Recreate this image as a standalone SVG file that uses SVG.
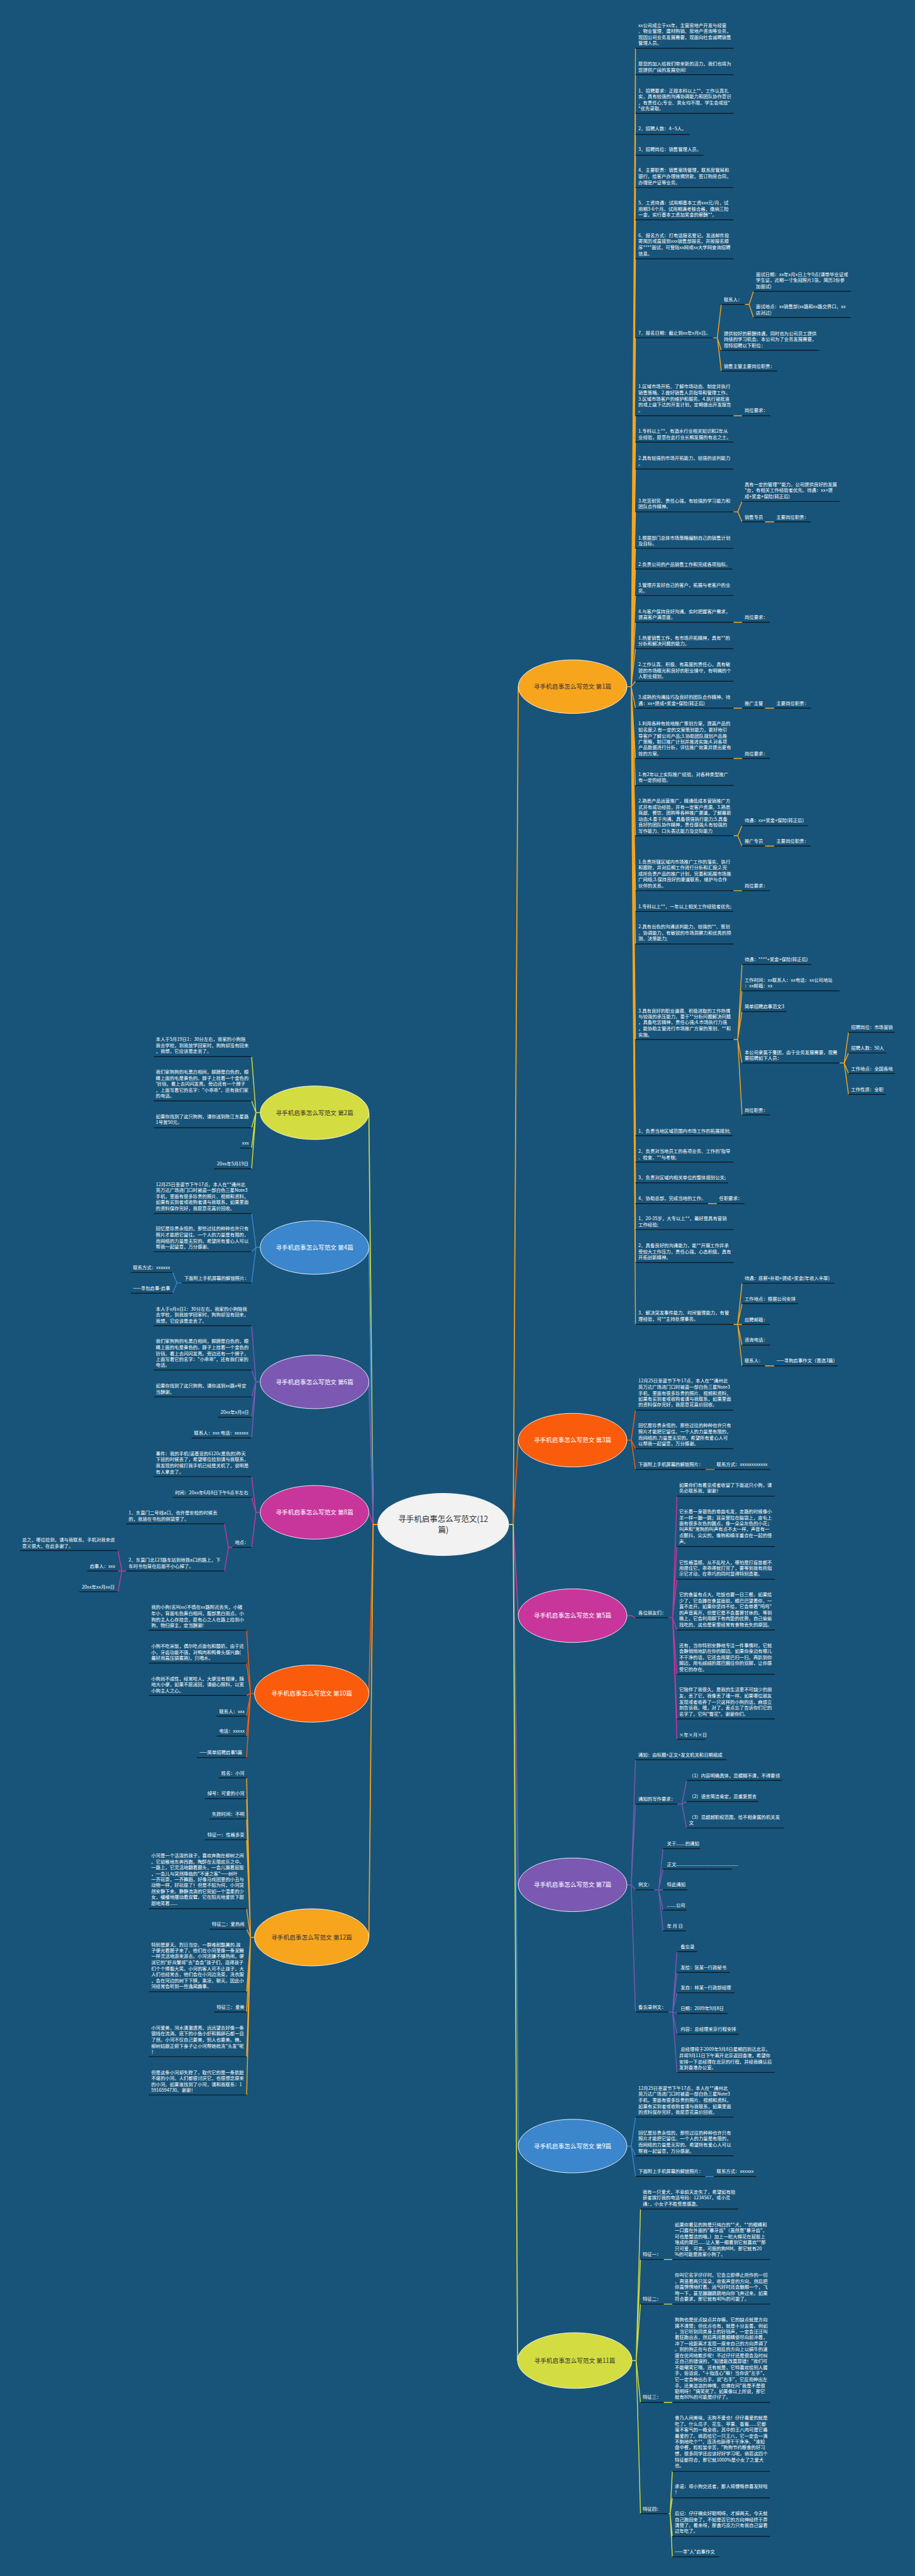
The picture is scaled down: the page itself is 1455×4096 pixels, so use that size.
<svg xmlns="http://www.w3.org/2000/svg" width="1455" height="4096" viewBox="0 0 1455 4096">
<style>
.t{font-family:"Noto Sans CJK SC","Noto Sans",sans-serif;font-size:13px;fill:#ffffff}
.u{fill:none;stroke:#0c1e2b;stroke-width:2.5}
.k{fill:none;stroke-width:2.5;stroke-linejoin:round}
.tk{fill:none;stroke-width:3}
.am{stroke:#f8a51e}.or{stroke:#fb5c0b}.mg{stroke:#c8369b}.pu{stroke:#7b59b2}.bl{stroke:#3b86cc}.yg{stroke:#d3dd41}
.e{stroke:#ffffff;stroke-width:1.5}
.tp{font-family:"Noto Sans CJK SC","Noto Sans",sans-serif;font-size:17px;text-anchor:middle}
.dk{fill:#333333}.wh{fill:#ffffff}
</style>
<rect width="1455" height="4096" fill="#185479"/>
<g transform="scale(0.56836)">
<g id="connectors">
<path class="tk yg" d="M1056 4265L1044 4265L1032 3113"/>
<path class="tk bl" d="M1056 4265L1044 4265L1032 3490"/>
<path class="tk pu" d="M1056 4265L1044 4265L1032 3866"/>
<path class="tk mg" d="M1056 4265L1044 4265L1032 4231"/>
<path class="tk or" d="M1056 4265L1044 4265L1032 4738"/>
<path class="tk am" d="M1056 4265L1044 4265L1032 5420"/>
<path class="tk am" d="M1424 4265L1436 4265L1450 1921"/>
<path class="tk or" d="M1424 4265L1436 4265L1450 4029"/>
<path class="tk mg" d="M1424 4265L1436 4265L1450 4520"/>
<path class="tk pu" d="M1424 4265L1436 4265L1450 5273"/>
<path class="tk bl" d="M1424 4265L1436 4265L1450 6004"/>
<path class="tk yg" d="M1424 4265L1436 4265L1448 6604"/>
<path class="k am" d="M1754 1921L1766 1921L1778 135M1766 1921L1778 209M1766 1921L1778 317M1766 1921L1778 376M1766 1921L1778 434M1766 1921L1778 525M1766 1921L1778 615M1766 1921L1778 724M1766 1921L1778 945M1766 1921L1778 1163M1766 1921L1778 1237M1766 1921L1778 1312M1766 1921L1778 1432M1766 1921L1778 1534M1766 1921L1778 1592M1766 1921L1778 1666M1766 1921L1778 1741M1766 1921L1778 1815M1766 1921L1778 1906M1766 1921L1778 1981M1766 1921L1778 2122M1766 1921L1778 2197M1766 1921L1778 2338M1766 1921L1778 2492M1766 1921L1778 2550M1766 1921L1778 2641M1766 1921L1778 2908M1766 1921L1778 3177M1766 1921L1778 3251M1766 1921L1778 3309M1766 1921L1778 3367M1766 1921L1778 3440M1766 1921L1778 3532M1766 1921L1778 3705"/>
<path class="k am" d="M1995 945L2007 945L2018 852M2007 945L2018 980M2007 945L2018 1038M2084 852L2096 852L2108 815M2096 852L2108 888M2052 1163L2076 1163M2052 1432L2064 1432L2076 1403M2064 1432L2076 1460M2140 1460L2166 1460M2052 1741L2076 1741M2052 1981L2076 1981M2140 1981L2166 1981M2052 2122L2076 2122M2052 2338L2064 2338L2076 2310M2064 2338L2076 2367M2140 2367L2166 2367M2052 2492L2076 2492M2052 2908L2064 2908L2076 2698M2064 2908L2076 2772M2064 2908L2076 2830M2064 2908L2076 2974M2064 2908L2076 3119M2349 2974L2362 2974L2374 2888M2362 2974L2374 2946M2362 2974L2374 3003M2362 2974L2374 3062M1981 3367L2006 3367M2052 3705L2064 3705L2076 3590M2064 3705L2076 3647M2064 3705L2076 3705M2064 3705L2076 3763M2064 3705L2076 3821M2140 3821L2166 3821"/>
<path class="k or" d="M1754 4029L1766 4029L1778 3945M1766 4029L1778 4053M1766 4029L1778 4111M1974 4111L2000 4111"/>
<path class="k mg" d="M1754 4520L1766 4520L1778 4526M1870 4526L1882 4526L1894 4186M1882 4526L1894 4327M1882 4526L1894 4418M1882 4526L1894 4560M1882 4526L1894 4684M1882 4526L1894 4809M1882 4526L1894 4866"/>
<path class="k pu" d="M1754 5273L1766 5273L1778 4923M1766 5273L1778 5047M1766 5273L1778 5287M1766 5273L1778 5629M1895 5047L1908 5047L1921 4981M1908 5047L1921 5040M1908 5047L1921 5114M1830 5287L1843 5287L1855 5172M1843 5287L1855 5229M1843 5287L1855 5287M1843 5287L1855 5344M1843 5287L1855 5402M1870 5629L1882 5629L1894 5460M1882 5629L1894 5518M1882 5629L1894 5575M1882 5629L1894 5633M1882 5629L1894 5691M1882 5629L1894 5798"/>
<path class="k bl" d="M1754 6004L1766 6004L1778 5923M1766 6004L1778 6031M1766 6004L1778 6089M1973 6089L1997 6089"/>
<path class="k yg" d="M1768 6604L1780 6604L1792 6180M1780 6604L1792 6321M1780 6604L1792 6446M1780 6604L1792 6721M1780 6604L1792 7032M1857 6321L1881 6321M1857 6446L1881 6446M1857 6721L1881 6721M1870 7032L1875 7032L1881 6914M1875 7032L1881 6988M1875 7032L1881 7096M1875 7032L1881 7153"/>
<path class="k yg" d="M728 3113L716 3113L704 2956M716 3113L704 3080M716 3113L704 3155M716 3113L704 3212M716 3113L704 3270"/>
<path class="k bl" d="M728 3490L716 3490L704 3395M716 3490L704 3502M716 3490L704 3589M508 3589L495 3589L483 3560M495 3589L483 3618"/>
<path class="k pu" d="M728 3866L716 3866L704 3709M716 3866L704 3833M716 3866L704 3908M716 3866L704 3965M716 3866L704 4023"/>
<path class="k mg" d="M728 4231L716 4231L704 4131M716 4231L704 4189M716 4231L704 4329M650 4329L639 4329L628 4263M639 4329L628 4395M353 4395L341 4395L330 4338M341 4395L330 4395M341 4395L330 4453"/>
<path class="k or" d="M712 4738L701 4738L690 4561M701 4738L690 4653M701 4738L690 4743M701 4738L690 4801M701 4738L690 4857M701 4738L690 4917"/>
<path class="k am" d="M712 5420L701 5420L690 4974M701 5420L690 5032M701 5420L690 5089M701 5420L690 5147M701 5420L690 5340M701 5420L690 5397M701 5420L690 5572M701 5420L690 5629M701 5420L690 5754M701 5420L690 5861"/>
</g>
<g id="center"><ellipse cx="1240" cy="4265" rx="184" ry="88" fill="#f2f2f2"/><text class="tp dk" style="font-size:22px"><tspan x="1240" y="4258">寻手机启事怎么写范文(12</tspan><tspan x="1240" y="4287">篇)</tspan></text></g>
<g id="topic1"><ellipse class="e" cx="1602" cy="1921" rx="152" ry="75" fill="#f8a51e"/><text class="tp dk" x="1602" y="1927">寻手机启事怎么写范文 第1篇</text></g>
<g id="topic3"><ellipse class="e" cx="1602" cy="4029" rx="152" ry="75" fill="#fb5c0b"/><text class="tp wh" x="1602" y="4035">寻手机启事怎么写范文 第3篇</text></g>
<g id="topic5"><ellipse class="e" cx="1602" cy="4520" rx="152" ry="75" fill="#c8369b"/><text class="tp wh" x="1602" y="4526">寻手机启事怎么写范文 第5篇</text></g>
<g id="topic7"><ellipse class="e" cx="1602" cy="5273" rx="152" ry="75" fill="#7b59b2"/><text class="tp wh" x="1602" y="5279">寻手机启事怎么写范文 第7篇</text></g>
<g id="topic9"><ellipse class="e" cx="1602" cy="6004" rx="152" ry="75" fill="#3b86cc"/><text class="tp wh" x="1602" y="6010">寻手机启事怎么写范文 第9篇</text></g>
<g id="topic11"><ellipse class="e" cx="1608" cy="6604" rx="160" ry="78" fill="#d3dd41"/><text class="tp dk" x="1608" y="6610">寻手机启事怎么写范文 第11篇</text></g>
<g id="topic2"><ellipse class="e" cx="880" cy="3113" rx="152" ry="75" fill="#d3dd41"/><text class="tp dk" x="880" y="3119">寻手机启事怎么写范文 第2篇</text></g>
<g id="topic4"><ellipse class="e" cx="880" cy="3490" rx="152" ry="75" fill="#3b86cc"/><text class="tp wh" x="880" y="3496">寻手机启事怎么写范文 第4篇</text></g>
<g id="topic6"><ellipse class="e" cx="880" cy="3866" rx="152" ry="75" fill="#7b59b2"/><text class="tp wh" x="880" y="3872">寻手机启事怎么写范文 第6篇</text></g>
<g id="topic8"><ellipse class="e" cx="880" cy="4231" rx="152" ry="75" fill="#c8369b"/><text class="tp wh" x="880" y="4237">寻手机启事怎么写范文 第8篇</text></g>
<g id="topic10"><ellipse class="e" cx="872" cy="4738" rx="160" ry="80" fill="#fb5c0b"/><text class="tp wh" x="872" y="4744">寻手机启事怎么写范文 第10篇</text></g>
<g id="topic12"><ellipse class="e" cx="872" cy="5420" rx="160" ry="80" fill="#f8a51e"/><text class="tp dk" x="872" y="5426">寻手机启事怎么写范文 第12篇</text></g>

<g id="r1a"><path class="u" d="M1778 135H2052"/><text class="t"><tspan x="1786" y="75">xx公司成立于xx年，主营房地产开发与经营</tspan><tspan x="1786" y="92">、物业管理、建材购销、房地产咨询等业务，</tspan><tspan x="1786" y="109">现因公司业务发展需要，现面向社会诚聘销售</tspan><tspan x="1786" y="125">管理人员。</tspan></text></g>
<g id="r1b"><path class="u" d="M1778 209H2052"/><text class="t"><tspan x="1786" y="183">愿您的加入给我们带来新的活力，我们也将为</tspan><tspan x="1786" y="200">您提供广阔的发展空间!</tspan></text></g>
<g id="r1c"><path class="u" d="M1778 317H2052"/><text class="t"><tspan x="1786" y="258">1、招聘要求：正规本科以上**，工作认真扎</tspan><tspan x="1786" y="275">实，具有较强的沟通协调能力和团队协作意识</tspan><tspan x="1786" y="292">，有责任心;专业、男女均不限，学生会或班*</tspan><tspan x="1786" y="308">*优先录取。</tspan></text></g>
<g id="r1d"><path class="u" d="M1778 376H1929"/><text class="t" x="1786" y="365">2、招聘人数：4--5人。</text></g>
<g id="r1e"><path class="u" d="M1778 434H1968"/><text class="t" x="1786" y="423">3、招聘岗位：销售管理人员。</text></g>
<g id="r1f"><path class="u" d="M1778 525H2052"/><text class="t"><tspan x="1786" y="481">4、主要职责：销售案场管理，联系房管局和</tspan><tspan x="1786" y="498">银行，给客户办理按揭贷款，签订购房合同，</tspan><tspan x="1786" y="515">办理房产证等业务。</tspan></text></g>
<g id="r1g"><path class="u" d="M1778 615H2052"/><text class="t"><tspan x="1786" y="572">5、工资待遇：试用期基本工资xxx元/月，试</tspan><tspan x="1786" y="589">用期3-6个月。试用期满考核合格，缴纳三险</tspan><tspan x="1786" y="606">一金，实行基本工资加奖金的薪酬**。</tspan></text></g>
<g id="r1h"><path class="u" d="M1778 724H2052"/><text class="t"><tspan x="1786" y="663">6、报名方式：打电话报名登记，发送邮件投</tspan><tspan x="1786" y="680">寄简历或直接到xxx销售部报名，并按报名顺</tspan><tspan x="1786" y="697">序****面试，可登陆xx网或xx大学网查询招聘</tspan><tspan x="1786" y="714">信息。</tspan></text></g>
<g id="r1i"><path class="u" d="M1778 945H1995"/><text class="t" x="1786" y="936">7、报名日期：截止到xx年x月x日。</text></g>
<g id="r1i1"><path class="u" d="M2018 852H2084"/><text class="t" x="2025" y="842">联系人：</text></g>
<g id="r1i1a"><path class="u" d="M2108 815H2381"/><text class="t"><tspan x="2115" y="772">面试日期：xx年x月x日上午9点(请带毕业证或</tspan><tspan x="2115" y="788">学生证，近期一寸免冠照片1张，简历1份参</tspan><tspan x="2115" y="805">加面试)</tspan></text></g>
<g id="r1i1b"><path class="u" d="M2108 888H2381"/><text class="t"><tspan x="2115" y="863">面试地点：xx销售部(xx路和xx路交界口，xx</tspan><tspan x="2115" y="879">店对过)</tspan></text></g>
<g id="r1i2"><path class="u" d="M2018 980H2292"/><text class="t"><tspan x="2025" y="937">提供较好的薪酬待遇，同时也为公司员工提供</tspan><tspan x="2025" y="954">持续的学习机会。本公司为了业务发展需要，</tspan><tspan x="2025" y="971">现特招聘以下职位：</tspan></text></g>
<g id="r1i3"><path class="u" d="M2018 1038H2174"/><text class="t" x="2025" y="1029">销售主管主要岗位职责：</text></g>
<g id="r1j"><path class="u" d="M1778 1163H2052"/><text class="t"><tspan x="1786" y="1086">1.区域市场开拓、了解市场动态、制定并执行</tspan><tspan x="1786" y="1103">销售策略。2.做好销售人员指导和管理工作。</tspan><tspan x="1786" y="1120">3.区域市场客户的维护和服务。4.执行被批准</tspan><tspan x="1786" y="1136">的或上级下达的开发计划，定期做出开发报告</tspan><tspan x="1786" y="1153">。</tspan></text></g>
<g id="r1j1"><path class="u" d="M2076 1163H2154"/><text class="t" x="2083" y="1153">岗位要求：</text></g>
<g id="r1k"><path class="u" d="M1778 1237H2052"/><text class="t"><tspan x="1786" y="1210">1.专科以上**，有酒水行业相关知识和2年从</tspan><tspan x="1786" y="1228">业经验，愿意在此行业长期发展的有志之士。</tspan></text></g>
<g id="r1l"><path class="u" d="M1778 1312H2052"/><text class="t"><tspan x="1786" y="1286">2.具有较强的市场开拓能力，较强的谈判能力</tspan><tspan x="1786" y="1302">。</tspan></text></g>
<g id="r1m"><path class="u" d="M1778 1432H2052"/><text class="t"><tspan x="1786" y="1405">3.吃苦耐劳、责任心强，有较强的学习能力和</tspan><tspan x="1786" y="1422">团队合作精神。</tspan></text></g>
<g id="r1m1"><path class="u" d="M2076 1403H2349"/><text class="t"><tspan x="2083" y="1360">具有一定的管理**能力。公司提供良好的发展</tspan><tspan x="2083" y="1376">*台，有相关工作经验者优先。待遇：xx+提</tspan><tspan x="2083" y="1393">成+奖金+保险(转正后)</tspan></text></g>
<g id="r1m2"><path class="u" d="M2076 1460H2140"/><text class="t" x="2083" y="1451">销售专员</text></g>
<g id="r1m2a"><path class="u" d="M2166 1460H2269"/><text class="t" x="2172" y="1451">主要岗位职责：</text></g>
<g id="r1n"><path class="u" d="M1778 1534H2052"/><text class="t"><tspan x="1786" y="1509">1.根据部门总体市场策略编制自己的销售计划</tspan><tspan x="1786" y="1525">及目标。</tspan></text></g>
<g id="r1o"><path class="u" d="M1778 1592H2049"/><text class="t" x="1786" y="1583">2.负责公司的产品销售工作和完成各项指标。</text></g>
<g id="r1p"><path class="u" d="M1778 1666H2052"/><text class="t"><tspan x="1786" y="1641">3.管理开发好自己的客户，拓展与老客户的业</tspan><tspan x="1786" y="1657">务。</tspan></text></g>
<g id="r1q"><path class="u" d="M1778 1741H2052"/><text class="t"><tspan x="1786" y="1715">4.与客户保持良好沟通，实时把握客户需求，</tspan><tspan x="1786" y="1731">提高客户满意度。</tspan></text></g>
<g id="r1q1"><path class="u" d="M2076 1741H2154"/><text class="t" x="2083" y="1731">岗位要求：</text></g>
<g id="r1r"><path class="u" d="M1778 1815H2052"/><text class="t"><tspan x="1786" y="1789">1.热爱销售工作，有市场开拓精神，具有**的</tspan><tspan x="1786" y="1806">分析和解决问题的能力。</tspan></text></g>
<g id="r1s"><path class="u" d="M1778 1906H2052"/><text class="t"><tspan x="1786" y="1864">2.工作认真、积极、有高度的责任心，具有敏</tspan><tspan x="1786" y="1881">锐的市场眼光和良好的职业操守，有明确的个</tspan><tspan x="1786" y="1897">人职业规划。</tspan></text></g>
<g id="r1t"><path class="u" d="M1778 1981H2052"/><text class="t"><tspan x="1786" y="1955">3.成熟的沟通技巧及良好的团队合作精神。待</tspan><tspan x="1786" y="1972">遇：xx+提成+奖金+保险(转正后)</tspan></text></g>
<g id="r1t1"><path class="u" d="M2076 1981H2140"/><text class="t" x="2083" y="1972">推广主管</text></g>
<g id="r1t1a"><path class="u" d="M2166 1981H2269"/><text class="t" x="2172" y="1972">主要岗位职责：</text></g>
<g id="r1u"><path class="u" d="M1778 2122H2052"/><text class="t"><tspan x="1786" y="2029">1.利用各种有效地推广策划方案，提高产品的</tspan><tspan x="1786" y="2046">知名度;2.有一定的文案策划能力，更好地引</tspan><tspan x="1786" y="2063">导客户了解公司产品;3.协助团队规划产品推</tspan><tspan x="1786" y="2080">广策略，制订推广计划并推进实施;4.对各项</tspan><tspan x="1786" y="2096">产品数据进行分析，评估推广效果并提出更有</tspan><tspan x="1786" y="2113">效的方案。</tspan></text></g>
<g id="r1u1"><path class="u" d="M2076 2122H2154"/><text class="t" x="2083" y="2113">岗位要求：</text></g>
<g id="r1v"><path class="u" d="M1778 2197H2052"/><text class="t"><tspan x="1786" y="2171">1.有2年以上实际推广经验，对各种类型推广</tspan><tspan x="1786" y="2187">有一定的经验。</tspan></text></g>
<g id="r1w"><path class="u" d="M1778 2338H2052"/><text class="t"><tspan x="1786" y="2245">2.熟悉产品运营推广，精通低成本营销推广方</tspan><tspan x="1786" y="2262">式并有成功经验，并有一定客户资源。3.熟悉</tspan><tspan x="1786" y="2279">商超、餐饮、团购等各种推广渠道，了解最新</tspan><tspan x="1786" y="2296">动态;4.善于沟通，具备很强执行能力;5.具备</tspan><tspan x="1786" y="2312">良好的团队协作精神，责任感强;6.有较强的</tspan><tspan x="1786" y="2329">写作能力、口头表达能力及交际能力</tspan></text></g>
<g id="r1w1"><path class="u" d="M2076 2310H2260"/><text class="t" x="2083" y="2300">待遇：xx+奖金+保险(转正后)</text></g>
<g id="r1w2"><path class="u" d="M2076 2367H2140"/><text class="t" x="2083" y="2358">推广专员</text></g>
<g id="r1w2a"><path class="u" d="M2166 2367H2269"/><text class="t" x="2172" y="2358">主要岗位职责：</text></g>
<g id="r1x"><path class="u" d="M1778 2492H2052"/><text class="t"><tspan x="1786" y="2416">1.负责所辖区域内市场推广工作的落实、执行</tspan><tspan x="1786" y="2432">和跟踪，并对后期工作进行分析和汇报;2.完</tspan><tspan x="1786" y="2449">成所负责产品的推广计划，完善和拓展市场推</tspan><tspan x="1786" y="2465">广网络;3.保持良好的渠道联系，维护与合作</tspan><tspan x="1786" y="2482">伙伴的关系。</tspan></text></g>
<g id="r1x1"><path class="u" d="M2076 2492H2154"/><text class="t" x="2083" y="2482">岗位要求：</text></g>
<g id="r1y"><path class="u" d="M1778 2550H2052"/><text class="t" x="1786" y="2540">1.专科以上**，一年以上相关工作经验者优先;</text></g>
<g id="r1z"><path class="u" d="M1778 2641H2052"/><text class="t"><tspan x="1786" y="2597">2.具有出色的沟通谈判能力，较强的**、策划</tspan><tspan x="1786" y="2614">、协调能力，有敏锐的市场洞察力和优秀的预</tspan><tspan x="1786" y="2631">测、决策能力;</tspan></text></g>
<g id="r1aa"><path class="u" d="M1778 2908H2052"/><text class="t"><tspan x="1786" y="2832">3.具有良好的职业道德、积极进取的工作热情</tspan><tspan x="1786" y="2849">与较强的承压能力，善于**分析问题解决问题</tspan><tspan x="1786" y="2865">，具备吃苦精神，责任心强;4.市场执行力强</tspan><tspan x="1786" y="2882">，能协助主管进行市场推广方案的策划、**和</tspan><tspan x="1786" y="2899">实施。</tspan></text></g>
<g id="r1aa1"><path class="u" d="M2076 2698H2270"/><text class="t" x="2083" y="2689">待遇：****+奖金+保险(转正后)</text></g>
<g id="r1aa2"><path class="u" d="M2076 2772H2349"/><text class="t"><tspan x="2083" y="2747">工作时间：xx联系人：xx电话：xx公司地址</tspan><tspan x="2083" y="2763">：xx邮箱：xx</tspan></text></g>
<g id="r1aa3"><path class="u" d="M2076 2830H2200"/><text class="t" x="2083" y="2821">简单招聘启事范文3</text></g>
<g id="r1aa4"><path class="u" d="M2076 2974H2349"/><text class="t"><tspan x="2083" y="2949">本公司隶属于集团，由于业务发展需要，现需</tspan><tspan x="2083" y="2965">要招聘如下人员：</tspan></text></g>
<g id="r1aa4a"><path class="u" d="M2374 2888H2504"/><text class="t" x="2381" y="2879">招聘岗位：市场营销</text></g>
<g id="r1aa4b"><path class="u" d="M2374 2946H2479"/><text class="t" x="2381" y="2937">招聘人数：50人</text></g>
<g id="r1aa4c"><path class="u" d="M2374 3003H2504"/><text class="t" x="2381" y="2994">工作地点：全国各地</text></g>
<g id="r1aa4d"><path class="u" d="M2374 3062H2478"/><text class="t" x="2381" y="3052">工作性质：全职</text></g>
<g id="r1aa5"><path class="u" d="M2076 3119H2154"/><text class="t" x="2083" y="3110">岗位职责：</text></g>
<g id="r1bb"><path class="u" d="M1778 3177H2050"/><text class="t" x="1786" y="3168">1、负责当地区域范围内市场工作的拓展规划;</text></g>
<g id="r1cc"><path class="u" d="M1778 3251H2052"/><text class="t"><tspan x="1786" y="3225">2、负责对当地员工的各项业务、工作的'指导</tspan><tspan x="1786" y="3242">、检查、**与考核;</tspan></text></g>
<g id="r1dd"><path class="u" d="M1778 3309H2037"/><text class="t" x="1786" y="3299">3、负责对区域内相关单位的整体规划公关;</text></g>
<g id="r1ee"><path class="u" d="M1778 3367H1981"/><text class="t" x="1786" y="3357">4、协助总部，完成当地的工作。</text></g>
<g id="r1ee1"><path class="u" d="M2006 3367H2083"/><text class="t" x="2012" y="3357">任职要求：</text></g>
<g id="r1ff"><path class="u" d="M1778 3440H2052"/><text class="t"><tspan x="1786" y="3414">1、20-35岁，大专以上**，最好是具有营销</tspan><tspan x="1786" y="3431">工作经验;</tspan></text></g>
<g id="r1gg"><path class="u" d="M1778 3532H2052"/><text class="t"><tspan x="1786" y="3489">2、具备良好的沟通能力，能**开展工作并承</tspan><tspan x="1786" y="3506">受较大工作压力，责任心强，心态积极，具有</tspan><tspan x="1786" y="3522">开拓创新精神。</tspan></text></g>
<g id="r1hh"><path class="u" d="M1778 3705H2052"/><text class="t"><tspan x="1786" y="3678">3、解决突发事件能力、时间管理能力，有管</tspan><tspan x="1786" y="3695">理经验，可**主持处理事务。</tspan></text></g>
<g id="r1hh1"><path class="u" d="M2076 3590H2335"/><text class="t" x="2083" y="3580">待遇：底薪+补助+提成+奖金(年收入丰厚)</text></g>
<g id="r1hh2"><path class="u" d="M2076 3647H2232"/><text class="t" x="2083" y="3638">工作地点：根据公司安排</text></g>
<g id="r1hh3"><path class="u" d="M2076 3705H2154"/><text class="t" x="2083" y="3696">应聘邮箱：</text></g>
<g id="r1hh4"><path class="u" d="M2076 3763H2154"/><text class="t" x="2083" y="3753">咨询电话：</text></g>
<g id="r1hh5"><path class="u" d="M2076 3821H2140"/><text class="t" x="2083" y="3811">联系人：</text></g>
<g id="r1hh5a"><path class="u" d="M2166 3821H2343"/><text class="t" x="2172" y="3811">——寻狗启事作文（菁选3篇)</text></g>

<g id="r3a"><path class="u" d="M1778 3945H2052"/><text class="t"><tspan x="1786" y="3868">12月25日圣诞节下午17点，本人在**通州北</tspan><tspan x="1786" y="3885">苑万达广场进门口时被盗一部白色三星Note3</tspan><tspan x="1786" y="3902">手机，里面有很多珍贵的照片、视频和资料，</tspan><tspan x="1786" y="3919">如果有买到者或收购者请与我联系，如果里面</tspan><tspan x="1786" y="3935">的资料保存完好，我愿意花高价回收。</tspan></text></g>
<g id="r3b"><path class="u" d="M1778 4053H2052"/><text class="t"><tspan x="1786" y="3992">回忆是珍贵永恒的，那些过往的种种也许只有</tspan><tspan x="1786" y="4010">照片才能把它留住。一个人的力量是有限的，</tspan><tspan x="1786" y="4027">而网络的.力量是无穷的。希望所有爱心人可</tspan><tspan x="1786" y="4044">以帮我一起留意，万分感谢。</tspan></text></g>
<g id="r3c"><path class="u" d="M1778 4111H1974"/><text class="t" x="1786" y="4102">下面附上手机屏幕的解锁照片：</text></g>
<g id="r3c1"><path class="u" d="M2000 4111H2155"/><text class="t" x="2005" y="4102">联系方式：xxxxxxxxxxxx</text></g>

<g id="r5a"><path class="u" d="M1778 4526H1870"/><text class="t" x="1786" y="4516">各位朋友们：</text></g>
<g id="r5a1"><path class="u" d="M1894 4186H2168"/><text class="t"><tspan x="1900" y="4159">如果你们有看见或者收留了下面这只小狗，请</tspan><tspan x="1900" y="4176">务必联系我，谢谢！</tspan></text></g>
<g id="r5a2"><path class="u" d="M1894 4327H2168"/><text class="t"><tspan x="1900" y="4233">它长着一身银色的卷曲毛发，走路的时候像小</tspan><tspan x="1900" y="4250">羊一样一蹦一跳；耳朵耷拉在脑袋上，皮毛上</tspan><tspan x="1900" y="4267">面有很多灰色的圆点，像一朵朵灰色的小花；</tspan><tspan x="1900" y="4283">叫声和*常狗的叫声有点不太一样，声音有一</tspan><tspan x="1900" y="4300">点颤抖，尖尖的，像狗和绵羊重合在一起的怪</tspan><tspan x="1900" y="4317">声。</tspan></text></g>
<g id="r5a3"><path class="u" d="M1894 4418H2168"/><text class="t"><tspan x="1900" y="4375">它性格温顺，从不乱咬人，哪怕是打疫苗都不</tspan><tspan x="1900" y="4391">用摁住它，乖乖得就打完了，要等到我有所指</tspan><tspan x="1900" y="4408">示它才动，在乖巧的同时显得特别勇敢。</tspan></text></g>
<g id="r5a4"><path class="u" d="M1894 4560H2168"/><text class="t"><tspan x="1900" y="4466">它的食量有点大，吃饭也要一日三餐。如果给</tspan><tspan x="1900" y="4483">少了，它会蹲在食盆面前，眼巴巴望着你，一</tspan><tspan x="1900" y="4499">直不走开。如果你坚持不给，它会带着"呜呜"</tspan><tspan x="1900" y="4516">的声音离开，但是它是不会善罢甘休的。等到</tspan><tspan x="1900" y="4533">晚上，它会利用脚下有肉垫的优势，自己偷偷</tspan><tspan x="1900" y="4550">找吃的，这也是家里经常有食物丢失的原因。</tspan></text></g>
<g id="r5a5"><path class="u" d="M1894 4684H2168"/><text class="t"><tspan x="1900" y="4608">还有，当你特别安静地专注一件事情时，它就</tspan><tspan x="1900" y="4624">会静悄悄地趴在你的脚边。如果你身边有哪儿</tspan><tspan x="1900" y="4641">不干净的话，它还会用尾巴扫一扫，再趴到你</tspan><tspan x="1900" y="4657">脚边，用毛绒绒的尾巴圈住你的双脚，让你感</tspan><tspan x="1900" y="4675">受它的存在。</tspan></text></g>
<g id="r5a6"><path class="u" d="M1894 4809H2168"/><text class="t"><tspan x="1900" y="4732">它陪伴了我很久，是我的生活里不可缺少的朋</tspan><tspan x="1900" y="4749">友，丢了它，我像丢了魂一样。如果哪位朋友</tspan><tspan x="1900" y="4766">发现或者收养了一只这样的小狗的话，麻烦立</tspan><tspan x="1900" y="4782">刻告诉我。噢，对了，差点忘了告诉你们它的</tspan><tspan x="1900" y="4799">名字了，它叫"雪花"。谢谢你们。</tspan></text></g>
<g id="r5a7"><path class="u" d="M1894 4866H1974"/><text class="t" x="1900" y="4857">×年×月×日</text></g>

<g id="r7a"><path class="u" d="M1778 4923H2032"/><text class="t" x="1786" y="4914">通知：由标题+正文+发文机关和日期组成</text></g>
<g id="r7b"><path class="u" d="M1778 5047H1895"/><text class="t" x="1786" y="5038">通知的写作要求：</text></g>
<g id="r7b1"><path class="u" d="M1921 4981H2188"/><text class="t" x="1928" y="4972">（1）内容明确具体，忌模糊不清，不得要领</text></g>
<g id="r7b2"><path class="u" d="M1921 5040H2122"/><text class="t" x="1928" y="5031">（2）语言简洁肯定，忌重复赘言</text></g>
<g id="r7b3"><path class="u" d="M1921 5114H2194"/><text class="t"><tspan x="1928" y="5088">（3）忌超越职权范围，给不相隶属的机关发</tspan><tspan x="1928" y="5104">文</tspan></text></g>
<g id="r7c"><path class="u" d="M1778 5287H1830"/><text class="t" x="1786" y="5277">例文：</text></g>
<g id="r7c1"><path class="u" d="M1855 5172H1959"/><text class="t" x="1866" y="5162">关于.......的通知</text></g>
<g id="r7c2"><path class="u" d="M1855 5229H2048"/><text class="t" x="1866" y="5220">正文................................................</text></g>
<g id="r7c3"><path class="u" d="M1855 5287H1923"/><text class="t" x="1866" y="5277">特此通知</text></g>
<g id="r7c4"><path class="u" d="M1855 5344H1920"/><text class="t" x="1866" y="5335">.......公司</text></g>
<g id="r7c5"><path class="u" d="M1855 5402H1919"/><text class="t" x="1866" y="5393">年 月 日</text></g>
<g id="r7d"><path class="u" d="M1778 5629H1870"/><text class="t" x="1786" y="5620">备忘录例文：</text></g>
<g id="r7d1"><path class="u" d="M1894 5460H1950"/><text class="t" x="1904" y="5450">备忘录</text></g>
<g id="r7d2"><path class="u" d="M1894 5518H2042"/><text class="t" x="1904" y="5508">发给：张某—行政秘书</text></g>
<g id="r7d3"><path class="u" d="M1894 5575H2055"/><text class="t" x="1904" y="5566">发自：林某—行政部经理</text></g>
<g id="r7d4"><path class="u" d="M1894 5633H2035"/><text class="t" x="1904" y="5624">日期：2009年9月8日</text></g>
<g id="r7d5"><path class="u" d="M1894 5691H2067"/><text class="t" x="1904" y="5681">内容：总经理来京行程安排</text></g>
<g id="r7d6"><path class="u" d="M1894 5798H2168"/><text class="t"><tspan x="1904" y="5738">总经理将于2009年9月8日星期四到达北京，</tspan><tspan x="1900" y="5756">并将9月11日下午离开北京返回香港，希望你</tspan><tspan x="1900" y="5772">安排一下总经理在北京的行程，并经我确认后</tspan><tspan x="1900" y="5789">发到香港办公室。</tspan></text></g>

<g id="r9a"><path class="u" d="M1778 5923H2052"/><text class="t"><tspan x="1786" y="5847">12月25日圣诞节下午17点，本人在**通州北</tspan><tspan x="1786" y="5863">苑万达广场进门口时被盗一部白色三星Note3</tspan><tspan x="1786" y="5880">手机，里面有很多珍贵的照片、视频和资料，</tspan><tspan x="1786" y="5897">如果有买到者或收购者请与我联系，如果里面</tspan><tspan x="1786" y="5913">的资料保存完好，我愿意花高价回收。</tspan></text></g>
<g id="r9b"><path class="u" d="M1778 6031H2052"/><text class="t"><tspan x="1786" y="5972">回忆是珍贵永恒的，那些过往的种种也许只有</tspan><tspan x="1786" y="5988">照片才能把它留住。一个人的力量是有限的，</tspan><tspan x="1786" y="6005">而网络的力量是无穷的。希望所有爱心人可以</tspan><tspan x="1786" y="6022">帮我一起留意，万分感谢。</tspan></text></g>
<g id="r9c"><path class="u" d="M1778 6089H1973"/><text class="t" x="1786" y="6079">下面附上手机屏幕的解锁照片：</text></g>
<g id="r9c1"><path class="u" d="M1997 6089H2116"/><text class="t" x="2005" y="6079">联系方式：xxxxxx</text></g>

<g id="r11a"><path class="u" d="M1792 6180H2065"/><text class="t"><tspan x="1798" y="6137">我有一只爱犬，不幸前天走失了，希望如有拾</tspan><tspan x="1798" y="6153">获者拨打我的电话号码：1234567，或小灵</tspan><tspan x="1798" y="6170">通：，小女子不胜受恩感激。</tspan></text></g>
<g id="r11b"><path class="u" d="M1792 6321H1857"/><text class="t" x="1798" y="6312">特征一：</text></g>
<g id="r11b1"><path class="u" d="M1881 6321H2154"/><text class="t"><tspan x="1888" y="6228">如果你看见的狗是只纯白的**犬，**的眼睛和</tspan><tspan x="1888" y="6245">一口露在外面的"暴牙齿"（虽然是"暴牙齿"，</tspan><tspan x="1888" y="6261">可也是整洁的哦。）加上一砣大棉花在屁股上</tspan><tspan x="1888" y="6278">堆成的尾巴......让人第一眼看到它就喜欢**那</tspan><tspan x="1888" y="6295">只可爱，可亲，可抱的狗MM。那它就有20</tspan><tspan x="1888" y="6312">%的可能是我家小狗了。</tspan></text></g>
<g id="r11c"><path class="u" d="M1792 6446H1857"/><text class="t" x="1798" y="6436">特征二：</text></g>
<g id="r11c1"><path class="u" d="M1881 6446H2154"/><text class="t"><tspan x="1888" y="6369">你叫它名字仔仔时。它会立即停止所作的一切</tspan><tspan x="1888" y="6386">，再竖着两只耳朵，收索声音的方向，然后把</tspan><tspan x="1888" y="6403">你直愣愣地盯着。运气好时还会魅眼一个，飞</tspan><tspan x="1888" y="6420">吻一下，甚至蹦蹦跳跳地向你飞奔过来。如果</tspan><tspan x="1888" y="6436">符合要求，那它就有40%的可能了。</tspan></text></g>
<g id="r11d"><path class="u" d="M1792 6721H1857"/><text class="t" x="1798" y="6711">特征三：</text></g>
<g id="r11d1"><path class="u" d="M1881 6721H2154"/><text class="t"><tspan x="1888" y="6494">狗狗也是优点缺点并存嘛。它的缺点就是方向</tspan><tspan x="1888" y="6511">搞不清楚；但优点也有，就是十分友善。例如</tspan><tspan x="1888" y="6527">，当它听到同类身上的铃铛声，一定会汪汪叫</tspan><tspan x="1888" y="6544">着狂跑出去，然后再闭着眼睛使尽向前冲着，</tspan><tspan x="1888" y="6561">冲了一段距离才发现一原来自己的方向弄调了</tspan><tspan x="1888" y="6577">。别的狗正在与自己相反的方向上以蜗牛的速</tspan><tspan x="1888" y="6594">度在优闲地散步呢！不过仔仔还是很会及时纠</tspan><tspan x="1888" y="6611">正自己的错误的，"知错能改莫算错！"我们可</tspan><tspan x="1888" y="6628">不能嘲笑它哦。还有就是，它特喜欢给别人握</tspan><tspan x="1888" y="6644">手，俗话说，"十指连心"嘛！当你说"左手"，</tspan><tspan x="1888" y="6661">它一定会伸出右手，说"右手"，它反而伸出左</tspan><tspan x="1888" y="6678">手。还美滋滋的神情，仿佛在问"我是不是很</tspan><tspan x="1888" y="6694">聪明呀！"搞笑死了。如果像以上所说，那它</tspan><tspan x="1888" y="6711">就有80%的可能是仔仔了。</tspan></text></g>
<g id="r11e"><path class="u" d="M1792 7032H1870"/><text class="t" x="1798" y="7023">特征四：</text></g>
<g id="r11e1"><path class="u" d="M1881 6914H2154"/><text class="t"><tspan x="1888" y="6769">食乃人间美味，无狗不爱也！仔仔最爱的就是</tspan><tspan x="1888" y="6786">吃了。什么瓜子、花生、苹果、香蕉......它都</tspan><tspan x="1888" y="6802">毫不客气的一概全收。其中的王八肉可是它最</tspan><tspan x="1888" y="6819">最爱的了。倘若给它一只王八，它一定会一滴</tspan><tspan x="1888" y="6836">不剩地吃个**，连汤也舔得干干净净。"谁知</tspan><tspan x="1888" y="6852">盘中餐，粒粒皆辛苦，"狗狗节约粮食的好习</tspan><tspan x="1888" y="6869">惯，很多同学还应该好好学习呢。倘若这四个</tspan><tspan x="1888" y="6886">特征都符合，那它就1000%是小女了之爱犬</tspan><tspan x="1888" y="6903">也。</tspan></text></g>
<g id="r11e2"><path class="u" d="M1881 6988H2154"/><text class="t"><tspan x="1888" y="6961">承诺：将小狗交还者，鄙人将慷慨恭喜发财啦</tspan><tspan x="1888" y="6977">！</tspan></text></g>
<g id="r11e3"><path class="u" d="M1881 7096H2154"/><text class="t"><tspan x="1888" y="7036">后记：仔仔确实好聪明呀，才掉两天，今天就</tspan><tspan x="1888" y="7053">自己跑回来了，不知是否它的方向神经终于弄</tspan><tspan x="1888" y="7069">清楚了。看来呀，那盒巧克力只有我自己留着</tspan><tspan x="1888" y="7086">过年吃了。</tspan></text></g>
<g id="r11e4"><path class="u" d="M1881 7153H2012"/><text class="t" x="1888" y="7143">——寻"人"启事作文</text></g>

<g id="l2a"><path class="u" d="M430 2956H704"/><text class="t"><tspan x="436" y="2912">本人于5月19日1：30分左右，我家的小狗陪</tspan><tspan x="436" y="2930">我去学校，到我放学回家时，狗狗却没有回来</tspan><tspan x="436" y="2946">，我想，它应该是走丢了。</tspan></text></g>
<g id="l2b"><path class="u" d="M430 3080H704"/><text class="t"><tspan x="436" y="3004">我们家狗狗的毛黑白相间，脚蹄是白色的，眼</tspan><tspan x="436" y="3021">睛上面的毛是黄色的。脖子上挂着一个金色的</tspan><tspan x="436" y="3037">'铃铛，看上去闪闪发亮。旁边还有一个牌子</tspan><tspan x="436" y="3054">，上面写着它的名字："小乖乖"，还有我们家</tspan><tspan x="436" y="3071">的电话。</tspan></text></g>
<g id="l2c"><path class="u" d="M430 3155H704"/><text class="t"><tspan x="436" y="3128">如果你找到了这只狗狗，请你送到陈江东星路</tspan><tspan x="436" y="3145">1号赏50元。</tspan></text></g>
<g id="l2d"><path class="u" d="M671 3212H704"/><text class="t" x="677" y="3203">xxx</text></g>
<g id="l2e"><path class="u" d="M599 3270H704"/><text class="t" x="607" y="3260">20xx年5月19日</text></g>

<g id="l4a"><path class="u" d="M430 3395H704"/><text class="t"><tspan x="436" y="3318">12月25日圣诞节下午17点，本人在**通州北</tspan><tspan x="436" y="3335">苑万达广场进门口时被盗一部白色三星Note3</tspan><tspan x="436" y="3351">手机，里面有很多珍贵的照片、视频和资料，</tspan><tspan x="436" y="3368">如果有买到者或收购者请与我联系，如果里面</tspan><tspan x="436" y="3385">的资料保存完好，我愿意花高价回收。</tspan></text></g>
<g id="l4b"><path class="u" d="M430 3502H704"/><text class="t"><tspan x="436" y="3442">回忆是珍贵永恒的，那些过往的种种也许只有</tspan><tspan x="436" y="3459">照片才能把它留住。一个人的力量是有限的，</tspan><tspan x="436" y="3476">而网络的力量是无穷的。希望所有爱心人可以</tspan><tspan x="436" y="3493">帮我一起留意，万分感谢。</tspan></text></g>
<g id="l4c"><path class="u" d="M508 3589H704"/><text class="t" x="515" y="3580">下面附上手机屏幕的解锁照片：</text></g>
<g id="l4c1"><path class="u" d="M366 3560H483"/><text class="t" x="372" y="3551">联系方式：xxxxxx</text></g>
<g id="l4c2"><path class="u" d="M366 3618H483"/><text class="t" x="372" y="3609">——寻包启事-启事</text></g>

<g id="l6a"><path class="u" d="M430 3709H704"/><text class="t"><tspan x="436" y="3666">本人于x月x日1：30分左右，我家的小狗陪我</tspan><tspan x="436" y="3683">去学校，到我放学回家时，狗狗却没有回来，</tspan><tspan x="436" y="3700">我想，它应该是走丢了。</tspan></text></g>
<g id="l6b"><path class="u" d="M430 3833H704"/><text class="t"><tspan x="436" y="3757">我们家狗狗的毛黑白相间，脚蹄是白色的，眼</tspan><tspan x="436" y="3774">睛上面的毛是黄色的。脖子上挂着一个金色的</tspan><tspan x="436" y="3791">铃铛，看上去闪闪发亮。旁边还有一个牌子，</tspan><tspan x="436" y="3807">上面写着它的名字："小乖乖"，还有我们家的</tspan><tspan x="436" y="3824">电话。</tspan></text></g>
<g id="l6c"><path class="u" d="M430 3908H704"/><text class="t"><tspan x="436" y="3882">如果你找到了这只狗狗，请你送到xx路x号定</tspan><tspan x="436" y="3899">当酬谢。</tspan></text></g>
<g id="l6d"><path class="u" d="M610 3965H704"/><text class="t" x="617" y="3956">20xx年x月x日</text></g>
<g id="l6e"><path class="u" d="M536 4023H704"/><text class="t" x="543" y="4014">联系人：xxx 电话：xxxxxx</text></g>

<g id="l8a"><path class="u" d="M430 4131H704"/><text class="t"><tspan x="436" y="4072">事件：我的手机(诺基亚的6120c黑色的)昨天</tspan><tspan x="436" y="4088">下班的时候丢了，希望哪位捡到请与我联系，</tspan><tspan x="436" y="4105">我发现的时候打我手机已经是关机了，说明是</tspan><tspan x="436" y="4122">有人拿走了。</tspan></text></g>
<g id="l8b"><path class="u" d="M483 4189H704"/><text class="t" x="490" y="4180">时间：20xx年6月8日下午6点半左右</text></g>
<g id="l8c"><path class="u" d="M650 4329H704"/><text class="t" x="657" y="4320">地点：</text></g>
<g id="l8c1"><path class="u" d="M353 4263H628"/><text class="t"><tspan x="360" y="4237">1、东直门二号线a口，也许是安检的时候丢</tspan><tspan x="360" y="4254">的，我放在书包的侧袋里了。</tspan></text></g>
<g id="l8c2"><path class="u" d="M353 4395H628"/><text class="t"><tspan x="360" y="4369">2、东直门北123路车站到地铁a口的路上，下</tspan><tspan x="360" y="4386">车时书包背在后面不小心掉了。</tspan></text></g>
<g id="l8c2a"><path class="u" d="M56 4338H330"/><text class="t"><tspan x="62" y="4312">总之，哪位捡到，请与我联系，手机对我来说</tspan><tspan x="62" y="4330">意义很大，在此多谢了。</tspan></text></g>
<g id="l8c2b"><path class="u" d="M244 4395H330"/><text class="t" x="251" y="4386">启事人：xxx</text></g>
<g id="l8c2c"><path class="u" d="M222 4453H330"/><text class="t" x="229" y="4444">20xx年xx月xx日</text></g>

<g id="l10a"><path class="u" d="M416 4561H690"/><text class="t"><tspan x="423" y="4501">我的小狗(名叫xx)不慎在xx路附近丢失，小猪</tspan><tspan x="423" y="4518">年小，背面毛色黄白相间，腹部黑白斑点。小</tspan><tspan x="423" y="4535">狗的主人心存挂念，愿有心之人在路上捡到小</tspan><tspan x="423" y="4551">狗，物归原主，定当酬谢!</tspan></text></g>
<g id="l10b"><path class="u" d="M416 4653H690"/><text class="t"><tspan x="423" y="4609">小狗不吃米饭，偶尔吃点面包和酸奶，由于还</tspan><tspan x="423" y="4627">小，牙齿功能不强，对鸭肉和鸭骨头感兴趣(</tspan><tspan x="423" y="4643">最好用高压锅煮熟)，只喝水。</tspan></text></g>
<g id="l10c"><path class="u" d="M416 4743H690"/><text class="t"><tspan x="423" y="4701">小狗尚不成性，经常咬人，大便没有规律，随</tspan><tspan x="423" y="4717">地大小便，如果不愿送回，请细心照料，以宽</tspan><tspan x="423" y="4734">小狗主人之心。</tspan></text></g>
<g id="l10d"><path class="u" d="M606 4801H690"/><text class="t" x="613" y="4792">联系人：xxx</text></g>
<g id="l10e"><path class="u" d="M606 4857H690"/><text class="t" x="613" y="4848">电话：xxxxx</text></g>
<g id="l10f"><path class="u" d="M551 4917H690"/><text class="t" x="558" y="4907">——简单招聘启事5篇</text></g>

<g id="l12a"><path class="u" d="M612 4974H690"/><text class="t" x="619" y="4965">姓名：小河</text></g>
<g id="l12b"><path class="u" d="M573 5032H690"/><text class="t" x="580" y="5022">绰号：可爱的小河</text></g>
<g id="l12c"><path class="u" d="M586 5089H690"/><text class="t" x="593" y="5080">失踪时间：不明</text></g>
<g id="l12d"><path class="u" d="M573 5147H690"/><text class="t" x="580" y="5138">特征一：性格多变</text></g>
<g id="l12e"><path class="u" d="M416 5340H690"/><text class="t"><tspan x="423" y="5196">小河是一个活泼的孩子，喜欢奔跑在柳树之间</tspan><tspan x="423" y="5213">。它幼稚地东奔西跑，陶醉在无限欢乐之中。</tspan><tspan x="423" y="5229">一路上，它灵活地翻着跟头，一会儿撅着屁股</tspan><tspan x="423" y="5246">，一会儿与突然降临的"不速之客"——树叶</tspan><tspan x="423" y="5262">一齐玩耍，一齐舞蹈，好像马戏团里的小丑与</tspan><tspan x="423" y="5279">动物一样，好玩极了！但是不知为何，小河突</tspan><tspan x="423" y="5296">然安静下来。静静流淌的它宛如一个温柔的少</tspan><tspan x="423" y="5312">女，缓缓地摆动着双臂。它在阳光地爱抚下甜</tspan><tspan x="423" y="5329">甜地笑着......</tspan></text></g>
<g id="l12f"><path class="u" d="M586 5397H690"/><text class="t" x="593" y="5387">特征二：爱热闹</text></g>
<g id="l12g"><path class="u" d="M416 5572H690"/><text class="t"><tspan x="423" y="5445">特别是夏天，烈日当空。一群难耐酷暑的.孩</tspan><tspan x="423" y="5462">子便光着膀子来了。他们在小河里像一条泥鳅</tspan><tspan x="423" y="5478">一样灵活地游来游去。小河还嫌不够热闹，便</tspan><tspan x="423" y="5495">派它的"虾兵蟹将"去"会会"孩子们，逗得孩子</tspan><tspan x="423" y="5512">们个个捧腹大笑。小河的客人可不止孩子，大</tspan><tspan x="423" y="5528">人们也经常去，他们会在小河边洗菜，洗衣服</tspan><tspan x="423" y="5545">，会在河边的树下下棋，乘凉，聊天。因此小</tspan><tspan x="423" y="5562">河经常会听到一些逸闻趣事。</tspan></text></g>
<g id="l12h"><path class="u" d="M599 5629H690"/><text class="t" x="606" y="5619">特征三：爱美</text></g>
<g id="l12i"><path class="u" d="M416 5754H690"/><text class="t"><tspan x="423" y="5678">小河爱美，河水清澈透亮，远远望去好像一条</tspan><tspan x="423" y="5694">银线在流淌。底下的小鱼小虾和鹅卵石都一目</tspan><tspan x="423" y="5711">了然。小河不仅自己要美，别人也要美。瞧，</tspan><tspan x="423" y="5728">柳树姑娘正俯下身子让小河帮她梳洗"头发"呢</tspan><tspan x="423" y="5744">！</tspan></text></g>
<g id="l12j"><path class="u" d="M416 5861H690"/><text class="t"><tspan x="423" y="5802">但是这条小河却失踪了，取代它的是一条肮脏</tspan><tspan x="423" y="5819">不堪的小河。人们都很讨厌它，也很想念原来</tspan><tspan x="423" y="5836">的小河。如果谁找到了小河，请和我联系：1</tspan><tspan x="423" y="5852">5916594730。谢谢！</tspan></text></g>
</g>
</svg>
